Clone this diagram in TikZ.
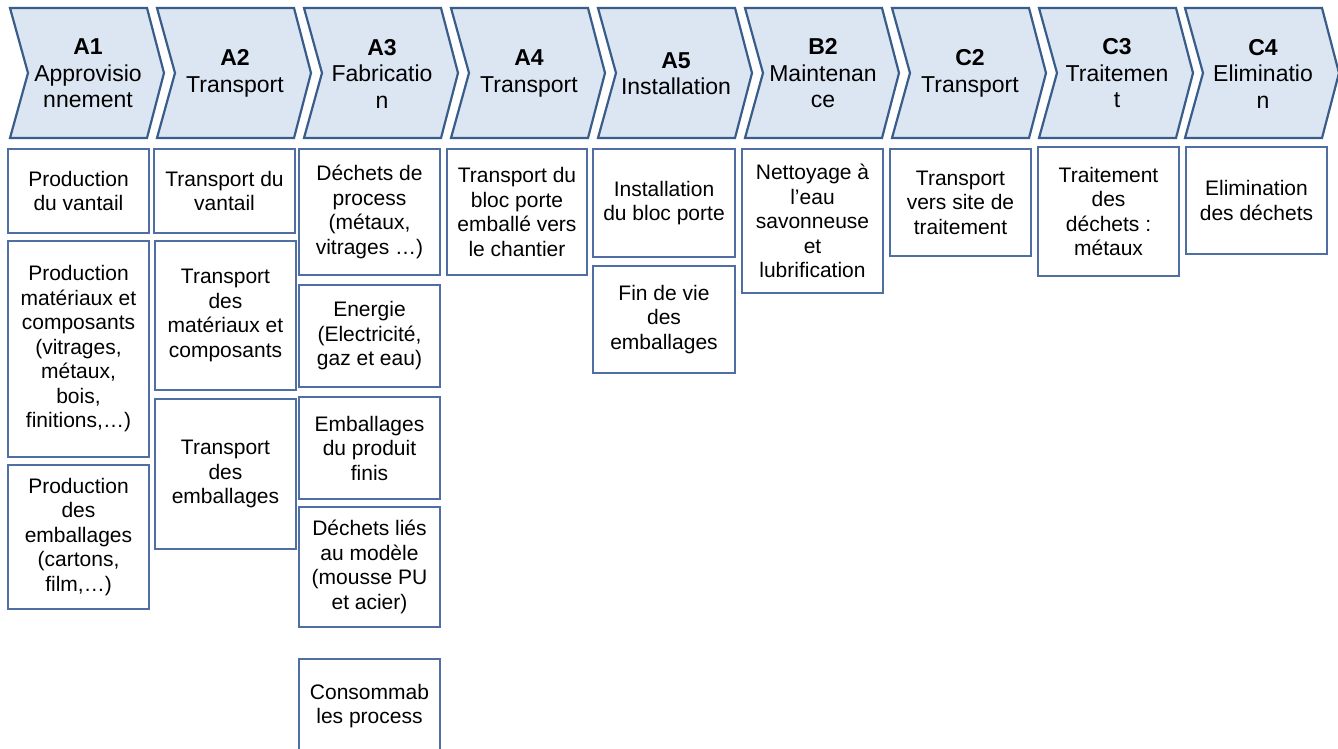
\documentclass[tikz,border=0pt]{standalone}
\usepackage{fontspec}
\setmainfont{Liberation Sans}
\definecolor{chevfill}{HTML}{DCE6F2}
\definecolor{chevline}{HTML}{385D8A}
\definecolor{boxline}{HTML}{4F6EA3}
\newcommand{\chev}[4]{%
  \draw[chev] (#1,8) -- ++(137,0) -- ++(17,65) -- ++(-17,65) -- ++(-137,0) -- ++(18,-65) -- cycle;
  \node[chevtext] (#2) at ({#1+78},73.5) {\textbf{#3}\\#4};
}
\newcommand{\bx}[6]{%
  \node[bx, minimum width={#4-#2}, minimum height={#5-#3}] (#1) at ({(#2+#4)/2},{(#3+#5)/2}) {#6};
}
\begin{document}
\begin{tikzpicture}[x=1pt,y=-1pt,
  chev/.style={draw=chevline, fill=chevfill, line width=2.2pt, line join=miter},
  chevtext/.style={align=center, inner sep=0pt, font=\fontsize{23}{26.5}\selectfont},
  bx/.style={draw=boxline, line width=1.2pt, fill=white, align=center, inner sep=0pt, font=\fontsize{21}{24.5}\selectfont}]
\useasboundingbox (0,0) rectangle (1338,749);
\clip (0,0) rectangle (1338,749);
\fill[white] (0,0) rectangle (1338,749);
% chevrons
\chev{10}{a1}{A1}{Approvisio\\nnement}
\chev{157}{a2}{A2}{Transport}
\chev{304}{a3}{A3}{Fabricatio\\n}
\chev{451}{a4}{A4}{Transport}
\chev{598}{a5}{A5}{Installation}
\chev{745}{b2}{B2}{Maintenan\\ce}
\chev{892}{c2}{C2}{Transport}
\chev{1039}{c3}{C3}{Traitemen\\t}
\chev{1185}{c4}{C4}{Eliminatio\\n}
% A1 column
\bx{a1b1}{8}{149}{149}{233}{Production\\du vantail}
\bx{a1b2}{8}{241}{149}{457}{Production\\matériaux et\\composants\\(vitrages,\\métaux,\\bois,\\finitions,…)}
\bx{a1b3}{8}{465}{149}{609}{Production\\des\\emballages\\(cartons,\\film,…)}
% A2 column
\bx{a2b1}{154}{149}{295}{233}{Transport du\\vantail}
\bx{a2b2}{155}{241}{296}{390}{Transport\\des\\matériaux et\\composants}
\bx{a2b3}{155}{399}{296}{549}{Transport\\des\\emballages}
% A3 column
\bx{a3b1}{299}{149}{440}{275}{Déchets de\\process\\(métaux,\\vitrages …)}
\bx{a3b2}{299}{285}{440}{387}{Energie\\(Electricité,\\gaz et eau)}
\bx{a3b3}{299}{397}{440}{499}{Emballages\\du produit\\finis}
\bx{a3b4}{299}{507}{440}{627}{Déchets liés\\au modèle\\(mousse PU\\et acier)}
\bx{a3b5}{299}{659}{440}{753}{Consommab\\les process}
% A4
\bx{a4b1}{447}{149}{587}{275}{Transport du\\bloc porte\\emballé vers\\le chantier}
% A5
\bx{a5b1}{593}{149}{735}{257}{Installation\\du bloc porte}
\bx{a5b2}{593}{266}{735}{373}{Fin de vie\\des\\emballages}
% B2
\bx{b2b1}{742}{149}{883}{293}{Nettoyage à\\l’eau\\savonneuse\\et\\lubrification}
% C2
\bx{c2b1}{890}{149}{1031}{256}{Transport\\vers site de\\traitement}
% C3
\bx{c3b1}{1038}{147}{1179}{276}{Traitement\\des\\déchets :\\métaux}
% C4
\bx{c4b1}{1186}{147}{1327}{254}{Elimination\\des déchets}
\end{tikzpicture}
\end{document}
